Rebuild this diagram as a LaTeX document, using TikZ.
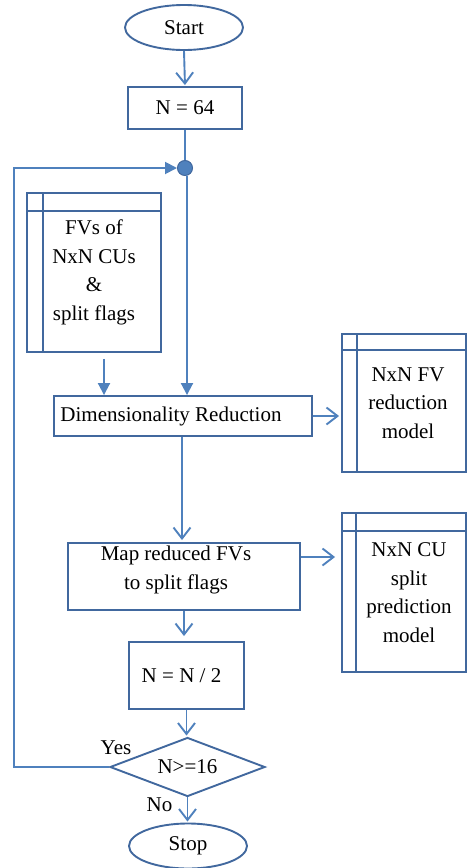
\documentclass[tikz,border=0pt]{standalone}
\usepackage{fontspec}
\setmainfont{Liberation Serif}
\usetikzlibrary{shapes.geometric,arrows.meta,calc}

\definecolor{boxblue}{RGB}{65,104,158}
\definecolor{arrowblue}{RGB}{79,129,189}

\tikzset{
  every node/.style={font=\fontsize{21}{28.5}\selectfont, text=black},
  box/.style={draw=boxblue, line width=1.9pt, rectangle, inner sep=2pt, align=center},
  term/.style={draw=boxblue, line width=1.9pt, ellipse, inner sep=0pt},
  decision/.style={draw=boxblue, line width=1.9pt, diamond, shape aspect=2.63, inner sep=0pt},
  junction/.style={draw=boxblue, fill=arrowblue, line width=1pt, circle, inner sep=0pt, minimum size=15pt},
  inner/.style={draw=boxblue, line width=1.9pt},
  flow/.style={draw=arrowblue, line width=1.9pt, -{Straight Barb[length=11pt,width=17pt,line width=1.9pt]}},
  feed/.style={draw=arrowblue, line width=1.9pt, -{Triangle[length=12pt,width=12pt]}},
  link/.style={draw=arrowblue, line width=1.9pt},
  tag/.style={inner sep=0pt}
}

\begin{document}
\begin{tikzpicture}[x=1pt,y=-1pt]
\useasboundingbox (0,0) rectangle (468,868);

% terminals, process boxes and stores
\node[term, minimum width=118pt, minimum height=45pt] (start) at (184,27.5) {Start};
\node[box, minimum width=114pt, minimum height=42pt] (n64) at (185,108) {N = 64};
\node[junction] (dot) at (185,168) {};
\node[box, minimum width=134pt, minimum height=159pt] (fvs) at (94,272.5)
  {FVs of\\NxN CUs\\\&\\split flags};
\node[box, minimum width=258pt, minimum height=40pt] (dr) at (183,416)
  {\hspace*{-24pt}Dimensionality Reduction};
\node[box, minimum width=124pt, minimum height=138pt] (fvm) at (404,403)
  {\hspace*{8pt}NxN FV\\\hspace*{8pt}reduction\\\hspace*{8pt}model};
\node[box, minimum width=232pt, minimum height=67pt, text depth=18pt] (map) at (184,576.5)
  {\hspace*{-16pt}Map reduced FVs\\\hspace*{-16pt}to split flags};
\node[box, minimum width=124pt, minimum height=159pt] (cum) at (404,592.5)
  {\hspace*{10pt}NxN CU\\\hspace*{10pt}split\\\hspace*{10pt}prediction\\\hspace*{10pt}model};
\node[box, minimum width=115pt, minimum height=67pt] (half) at (186.5,675.5)
  {\hspace*{-10pt}N = N / 2};
\node[decision, minimum width=155pt, minimum height=59pt] (dia) at (187.5,767) {N>=16};
\node[term, minimum width=118pt, minimum height=45pt] (stop) at (188,846) {Stop};

% inner rules of the stored-data boxes
\draw[inner] ($(fvs.north west)+(17,0)$) -- ($(fvs.south west)+(17,0)$);
\draw[inner] ($(fvs.north west)+(0,19)$) -- ($(fvs.north east)+(0,19)$);
\draw[inner] ($(fvm.north west)+(16,0)$) -- ($(fvm.south west)+(16,0)$);
\draw[inner] ($(fvm.north west)+(0,17)$) -- ($(fvm.north east)+(0,17)$);
\draw[inner] ($(cum.north west)+(15,0)$) -- ($(cum.south west)+(15,0)$);
\draw[inner] ($(cum.north west)+(0,19)$) -- ($(cum.north east)+(0,19)$);

% connector end points
\coordinate (dotout) at ($(dot.south)+(2,0)$);
\coordinate (dotin) at (dotout |- dr.north);
\coordinate (fvsout) at ($(fvs.south)+(10,6)$);
\coordinate (fvsin) at (fvsout |- dr.north);
\coordinate (drout) at ($(dr.south)+(-1,0)$);
\coordinate (mapout) at ($(map.east)+(0,-19.5)$);
\coordinate (loopcorner) at (14,767);

% connectors
\draw[flow, shorten >=1pt] (start.south) -- (n64.north);
\draw[link] (n64.south) -- (dot.north);
\draw[feed] (dotout) -- (dotin);
\draw[feed] (fvsout) -- (fvsin);
\draw[flow, shorten >=2pt] (dr.east) -- (fvm.west |- dr.east);
\draw[flow, shorten >=2pt] (drout) -- (drout |- map.north);
\draw[flow, shorten >=6pt] (mapout) -- (cum.west |- mapout);
\draw[flow, shorten >=5pt] (map.south) -- (map.south |- half.north);
\draw[flow, shorten >=1pt] (half.south) -- (half.south |- dia.north);
\draw[flow, shorten >=1pt] (dia.south) -- (dia.south |- stop.north);
\draw[feed] (dia.west) -- (loopcorner) -- (loopcorner |- dot.west) -- (dot.west);

% branch labels
\node[tag] (yes) at (116,748) {Yes};
\node[tag] (no) at (159.5,805) {No};
\end{tikzpicture}
\end{document}
